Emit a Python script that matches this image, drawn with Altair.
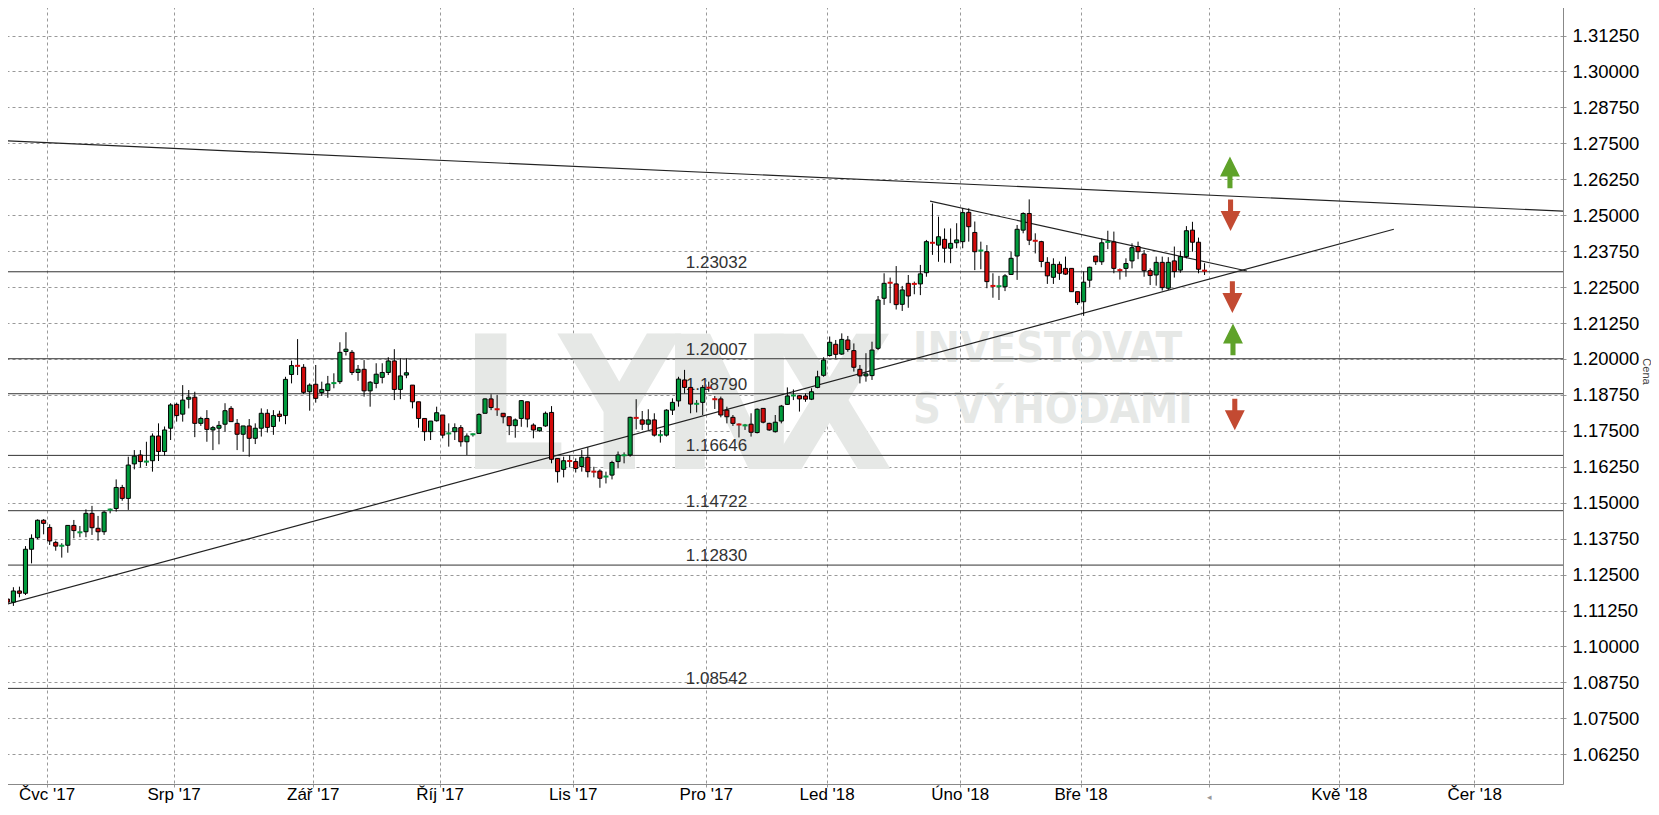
import json
import altair as alt
import pandas as pd

# ---------------- data ----------------
# trading-day index, 0 = first trading day of July 2017
day = list(range(-8, 192))

o = [1.1136, 1.1165, 1.1154, 1.1193, 1.1185, 1.1338, 1.1378, 1.1439,
     1.1414, 1.1362, 1.1349, 1.1352, 1.1421, 1.1396, 1.1399, 1.1463, 1.1411, 1.1399,
     1.1475, 1.1480, 1.1553, 1.1515, 1.1635, 1.1666, 1.1642, 1.1646, 1.1732, 1.1678,
     1.1759, 1.1842, 1.1808, 1.1860, 1.1867, 1.1776, 1.1793, 1.1753, 1.1759, 1.1773,
     1.1828, 1.1776, 1.1738, 1.1767, 1.1724, 1.1759, 1.1811, 1.1765, 1.1808, 1.1803,
     1.1946, 1.1977, 1.1971, 1.1886, 1.1912, 1.1883, 1.1890, 1.1915, 1.1921, 1.2026,
     1.2023, 1.1953, 1.1964, 1.1889, 1.1915, 1.1936, 1.1953, 1.1993, 1.1894, 1.1944,
     1.1909, 1.1851, 1.1793, 1.1747, 1.1785, 1.1805, 1.1740, 1.1747, 1.1761, 1.1712,
     1.1737, 1.1741, 1.1811, 1.1861, 1.1826, 1.1811, 1.1799, 1.1768, 1.1793, 1.1851,
     1.1770, 1.1750, 1.1767, 1.1814, 1.1654, 1.1616, 1.1646, 1.1643, 1.1626, 1.1658,
     1.1609, 1.1610, 1.1590, 1.1596, 1.1643, 1.1664, 1.1666, 1.1796, 1.1788, 1.1773,
     1.1788, 1.1734, 1.1735, 1.1822, 1.1854, 1.1927, 1.1901, 1.1843, 1.1849, 1.1901,
     1.1861, 1.1861, 1.1822, 1.1797, 1.1773, 1.1768, 1.1773, 1.1744, 1.1828, 1.1776,
     1.1747, 1.1784, 1.1842, 1.1872, 1.1872, 1.1871, 1.1860, 1.1901, 1.1943, 1.2012,
     1.2051, 1.2017, 1.2066, 1.2029, 1.1964, 1.1941, 1.1942, 1.2037, 1.2211, 1.2266,
     1.2261, 1.2190, 1.2263, 1.2262, 1.2261, 1.2300, 1.2405, 1.2396, 1.2416, 1.2385,
     1.2404, 1.2408, 1.2510, 1.2440, 1.2376, 1.2373, 1.2255, 1.2252, 1.2251, 1.2294,
     1.2358, 1.2448, 1.2506, 1.2412, 1.2408, 1.2336, 1.2284, 1.2329, 1.2315, 1.2315,
     1.2234, 1.2199, 1.2274, 1.2358, 1.2338, 1.2406, 1.2407, 1.2310, 1.2315, 1.2341,
     1.2391, 1.2365, 1.2307, 1.2292, 1.2336, 1.2246, 1.2341, 1.2309, 1.2356, 1.2448,
     1.2406, 1.2308]

h = [1.1173, 1.1176, 1.1206, 1.1208, 1.1349, 1.1390, 1.1442, 1.1443,
     1.1425, 1.1368, 1.1359, 1.1421, 1.1440, 1.1419, 1.1477, 1.1489, 1.1454, 1.1472,
     1.1480, 1.1581, 1.1562, 1.1660, 1.1683, 1.1683, 1.1712, 1.1741, 1.1776, 1.1765,
     1.1846, 1.1848, 1.1909, 1.1892, 1.1886, 1.1799, 1.1822, 1.1767, 1.1784, 1.1846,
     1.1836, 1.1791, 1.1767, 1.1791, 1.1776, 1.1828, 1.1825, 1.1822, 1.1820, 1.1938,
     1.1994, 1.2069, 1.1982, 1.1915, 1.1979, 1.1921, 1.1941, 1.1950, 1.2058, 1.2093,
     1.2031, 1.1979, 1.1996, 1.1923, 1.1985, 1.1985, 1.2006, 1.2034, 1.2002, 1.2002,
     1.1909, 1.1851, 1.1793, 1.1784, 1.1834, 1.1805, 1.1776, 1.1776, 1.1770, 1.1741,
     1.1741, 1.1811, 1.1863, 1.1877, 1.1875, 1.1811, 1.1799, 1.1793, 1.1857, 1.1851,
     1.1776, 1.1761, 1.1817, 1.1836, 1.1654, 1.1660, 1.1665, 1.1654, 1.1683, 1.1693,
     1.1625, 1.1616, 1.1608, 1.1646, 1.1678, 1.1675, 1.1799, 1.1860, 1.1819, 1.1825,
     1.1811, 1.1753, 1.1825, 1.1863, 1.1938, 1.1962, 1.1901, 1.1857, 1.1909, 1.1921,
     1.1871, 1.1869, 1.1834, 1.1805, 1.1776, 1.1774, 1.1811, 1.1828, 1.1828, 1.1778,
     1.1805, 1.1840, 1.1901, 1.1894, 1.1874, 1.1880, 1.1898, 1.1959, 1.2006, 1.2078,
     1.2066, 1.2089, 1.2080, 1.2054, 1.1979, 1.2020, 1.2060, 1.2219, 1.2298, 1.2283,
     1.2323, 1.2254, 1.2292, 1.2269, 1.2327, 1.2414, 1.2541, 1.2495, 1.2454, 1.2454,
     1.2472, 1.2524, 1.2524, 1.2478, 1.2408, 1.2396, 1.2298, 1.2289, 1.2295, 1.2373,
     1.2466, 1.2510, 1.2555, 1.2437, 1.2411, 1.2354, 1.2350, 1.2339, 1.2356, 1.2315,
     1.2234, 1.2304, 1.2321, 1.2358, 1.2419, 1.2446, 1.2443, 1.2315, 1.2350, 1.2402,
     1.2408, 1.2379, 1.2315, 1.2356, 1.2356, 1.2354, 1.2391, 1.2376, 1.2462, 1.2477,
     1.2422, 1.2333]

l = [1.1127, 1.1136, 1.1141, 1.1171, 1.1179, 1.1289, 1.1373, 1.1390,
     1.1353, 1.1333, 1.1309, 1.1326, 1.1376, 1.1380, 1.1380, 1.1388, 1.1368, 1.1388,
     1.1463, 1.1469, 1.1507, 1.1475, 1.1616, 1.1622, 1.1628, 1.1608, 1.1645, 1.1664,
     1.1718, 1.1782, 1.1782, 1.1828, 1.1728, 1.1767, 1.1712, 1.1683, 1.1703, 1.1747,
     1.1782, 1.1683, 1.1677, 1.1660, 1.1704, 1.1730, 1.1744, 1.1736, 1.1782, 1.1773,
     1.1915, 1.1944, 1.1878, 1.1820, 1.1848, 1.1871, 1.1865, 1.1898, 1.1913, 1.2012,
     1.1944, 1.1924, 1.1869, 1.1834, 1.1898, 1.1915, 1.1944, 1.1857, 1.1860, 1.1933,
     1.1828, 1.1761, 1.1715, 1.1718, 1.1782, 1.1724, 1.1695, 1.1718, 1.1695, 1.1666,
     1.1730, 1.1741, 1.1811, 1.1822, 1.1802, 1.1776, 1.1735, 1.1726, 1.1764, 1.1762,
     1.1724, 1.1747, 1.1764, 1.1637, 1.1570, 1.1588, 1.1623, 1.1605, 1.1608, 1.1588,
     1.1588, 1.1552, 1.1567, 1.1581, 1.1620, 1.1637, 1.1660, 1.1755, 1.1753, 1.1753,
     1.1730, 1.1709, 1.1730, 1.1805, 1.1834, 1.1880, 1.1811, 1.1814, 1.1805, 1.1886,
     1.1826, 1.1797, 1.1776, 1.1767, 1.1727, 1.1753, 1.1730, 1.1741, 1.1776, 1.1750,
     1.1744, 1.1776, 1.1840, 1.1857, 1.1817, 1.1851, 1.1857, 1.1898, 1.1938, 1.2008,
     1.2002, 1.2014, 1.2025, 1.1956, 1.1915, 1.1921, 1.1927, 1.2031, 1.2188, 1.2194,
     1.2172, 1.2167, 1.2178, 1.2225, 1.2222, 1.2286, 1.2362, 1.2338, 1.2335, 1.2333,
     1.2385, 1.2385, 1.2408, 1.2309, 1.2312, 1.2246, 1.2213, 1.2205, 1.2236, 1.2292,
     1.2275, 1.2437, 1.2396, 1.2367, 1.2319, 1.2261, 1.2261, 1.2275, 1.2292, 1.2234,
     1.2188, 1.2150, 1.2249, 1.2327, 1.2327, 1.2382, 1.2298, 1.2276, 1.2286, 1.2315,
     1.2347, 1.2286, 1.2257, 1.2255, 1.2238, 1.2240, 1.2283, 1.2300, 1.2350, 1.2373,
     1.2298, 1.2292]

c = [1.1167, 1.1154, 1.1193, 1.1185, 1.1338, 1.1376, 1.1439, 1.1428,
     1.1367, 1.1349, 1.1350, 1.1421, 1.1403, 1.1397, 1.1463, 1.1413, 1.1399, 1.1467,
     1.1476, 1.1553, 1.1515, 1.1631, 1.1662, 1.1643, 1.1643, 1.1732, 1.1678, 1.1753,
     1.1840, 1.1803, 1.1857, 1.1867, 1.1776, 1.1793, 1.1755, 1.1761, 1.1769, 1.1820,
     1.1782, 1.1738, 1.1767, 1.1724, 1.1759, 1.1811, 1.1762, 1.1803, 1.1800, 1.1929,
     1.1977, 1.1976, 1.1884, 1.1909, 1.1863, 1.1894, 1.1913, 1.1916, 1.2023, 1.2034,
     1.1953, 1.1964, 1.1889, 1.1919, 1.1947, 1.1953, 1.1993, 1.1894, 1.1941, 1.1952,
     1.1851, 1.1793, 1.1747, 1.1784, 1.1813, 1.1735, 1.1741, 1.1761, 1.1712, 1.1732,
     1.1738, 1.1807, 1.1861, 1.1831, 1.1825, 1.1799, 1.1768, 1.1788, 1.1855, 1.1791,
     1.1753, 1.1761, 1.1811, 1.1651, 1.1608, 1.1646, 1.1645, 1.1619, 1.1658, 1.1608,
     1.1608, 1.1585, 1.1591, 1.1640, 1.1666, 1.1665, 1.1797, 1.1795, 1.1773, 1.1788,
     1.1735, 1.1735, 1.1822, 1.1849, 1.1930, 1.1901, 1.1843, 1.1844, 1.1901, 1.1900,
     1.1860, 1.1805, 1.1799, 1.1776, 1.1772, 1.1769, 1.1745, 1.1825, 1.1780, 1.1753,
     1.1780, 1.1836, 1.1871, 1.1873, 1.1861, 1.1860, 1.1886, 1.1938, 1.1996, 1.2058,
     1.2016, 1.2068, 1.2033, 1.1971, 1.1941, 1.1948, 1.2031, 1.2205, 1.2263, 1.2265,
     1.2189, 1.2240, 1.2219, 1.2261, 1.2296, 1.2408, 1.2404, 1.2425, 1.2385, 1.2402,
     1.2414, 1.2509, 1.2460, 1.2373, 1.2377, 1.2269, 1.2254, 1.2253, 1.2289, 1.2350,
     1.2451, 1.2506, 1.2413, 1.2411, 1.2339, 1.2289, 1.2329, 1.2298, 1.2295, 1.2234,
     1.2196, 1.2267, 1.2319, 1.2338, 1.2404, 1.2407, 1.2315, 1.2309, 1.2332, 1.2387,
     1.2373, 1.2307, 1.2290, 1.2336, 1.2248, 1.2336, 1.2304, 1.2356, 1.2446, 1.2406,
     1.2312, 1.2307]

levels = [1.23032, 1.20007, 1.18790, 1.16646, 1.14722, 1.12830, 1.08542]
level_labels = ["1.23032", "1.20007", "1.18790", "1.16646", "1.14722", "1.12830", "1.08542"]

# trend lines: start/end (trading-day index, price)
trend_x1 = [-8.2, -8.2, 145.6]
trend_y1 = [1.2760, 1.1141, 1.2549]
trend_x2 = [250.3, 222.3, 198.0]
trend_y2 = [1.2514, 1.2451, 1.2306]

# signal arrows
arrow_day = [195.2, 195.3, 195.6, 195.7, 196.0]
arrow_price = [1.2649, 1.2500, 1.2215, 1.2068, 1.1807]
arrow_dir = ["up", "down", "down", "up", "down"]

# axis ticks
month_pos = [-0.5, 20.5, 43.5, 64.5, 86.5, 108.5, 128.5, 150.5, 170.5, 191.7, 213.2, 235.6]
month_lab = ["Čvc '17", "Srp '17", "Zář '17", "Říj '17", "Lis '17", "Pro '17",
             "Led '18", "Úno '18", "Bře '18", "◂", "Kvě '18", "Čer '18"]
price_ticks = [1.0625, 1.075, 1.0875, 1.1, 1.1125, 1.125, 1.1375, 1.15, 1.1625,
               1.175, 1.1875, 1.2, 1.2125, 1.225, 1.2375, 1.25, 1.2625, 1.275,
               1.2875, 1.3, 1.3125]

# ---------------- styling ----------------
GREEN = "#009a3c"
RED = "#d20a0a"
ARROW_GREEN = "#5fa22a"
ARROW_RED = "#c34a32"
WM = "#e6e8e6"
NARROW = "Liberation Sans Narrow, Arial Narrow, DejaVu Sans Condensed, sans-serif"
FONT = "Liberation Sans, Arial, sans-serif"
LABEL_DAY = 105.2
MARK_POS = month_pos[9]

xs = alt.Scale(domain=[-8.215, 250.28], nice=False, zero=False)
ys = alt.Scale(domain=[1.05216, 1.32485], nice=False, zero=False)

expr = "''"
for p, lab in reversed(list(zip(month_pos, month_lab))):
    expr = f"datum.value == {p} ? {json.dumps(lab, ensure_ascii=False)} : ({expr})"

xaxis = alt.Axis(values=month_pos, labelExpr=expr, title=None, orient="bottom",
                 tickCount=100,
                 labelFontSize={"condition": {"test": f"datum.value == {MARK_POS}", "value": 9},
                                "value": 17},
                 labelColor={"condition": {"test": f"datum.value == {MARK_POS}", "value": "#999"},
                             "value": "#000"},
                 labelBaseline="alphabetic",
                 labelFont=FONT, labelPadding=12, tickSize=3, tickColor="#999",
                 domainColor="#888", grid=True, gridColor="#999",
                 gridDash=[3, 3], labelFlush=False, labelOverlap=False)
yaxis = alt.Axis(values=price_ticks, format=".5f", orient="right", title="Cena",
                 tickCount=100,
                 labelFontSize=18.5, labelFont=FONT, labelColor="#000",
                 labelPadding=6, tickSize=3, tickColor="#999",
                 domainColor="#888", grid=True, gridColor="#999", gridDash=[3, 3],
                 labelFlush=False, labelOverlap=False,
                 titleAngle=90, titleFontSize=11, titleFontWeight="normal",
                 titleFont=FONT, titleColor="#444", titleX=82, titleY=371,
                 titleAlign="center", titleBaseline="middle")

df = pd.DataFrame({"d": day, "o": o, "h": h, "l": l, "c": c})
df["dir"] = ["up" if cc >= oo else "down" for oo, cc in zip(o, c)]
dir_color = alt.Scale(domain=["up", "down"], range=[GREEN, RED])

base = alt.Chart(df)

axes_layer = base.mark_rule(opacity=0).encode(
    x=alt.X("d:Q", scale=xs, axis=xaxis),
    y=alt.Y("l:Q", scale=ys, axis=yaxis),
)

wicks = base.mark_rule(color="#000", strokeWidth=1, clip=True).encode(
    x="d:Q", y="l:Q", y2="h:Q",
)

bodies = base.transform_filter("abs(datum.c - datum.o) >= 0.0003").transform_calculate(
    x0="datum.d - 0.34", x1="datum.d + 0.34"
).mark_bar(stroke="#000", strokeWidth=1, clip=True).encode(
    x="x0:Q", x2="x1:Q", y="o:Q", y2="c:Q",
    fill=alt.Fill("dir:N", scale=dir_color, legend=None),
)

dojis = base.transform_filter("abs(datum.c - datum.o) < 0.0003").mark_tick(
    orient="horizontal", thickness=2, size=5, clip=True, opacity=1
).encode(
    x="d:Q", y="c:Q",
    color=alt.Color("dir:N", scale=dir_color, legend=None),
)

lev_df = pd.DataFrame({"v": levels, "t": level_labels})
lev_lines = alt.Chart(lev_df).mark_rule(color="#333", strokeWidth=1).encode(y="v:Q")
lev_text = alt.Chart(lev_df).mark_text(
    align="left", baseline="alphabetic", dy=-4, fontSize=17, font=FONT, color="#333"
).encode(x=alt.datum(LABEL_DAY), y="v:Q", text="t:N")

tr_df = pd.DataFrame({"x1": trend_x1, "y1": trend_y1, "x2": trend_x2, "y2": trend_y2})
trends = alt.Chart(tr_df).mark_rule(color="#222", strokeWidth=1.2, clip=True).encode(
    x="x1:Q", y="y1:Q", x2="x2:Q", y2="y2:Q"
)

ar_df = pd.DataFrame({"d": arrow_day, "p": arrow_price, "dir": arrow_dir})
UP = "M0,-1 L0.63,0.26 L0.16,0.26 L0.16,1 L-0.16,1 L-0.16,0.26 L-0.63,0.26 Z"
DOWN = "M0,1 L0.63,-0.26 L0.16,-0.26 L0.16,-1 L-0.16,-1 L-0.16,-0.26 L-0.63,-0.26 Z"
arrows_up = alt.Chart(ar_df).transform_filter("datum.dir == 'up'").mark_point(
    shape=UP, filled=True, size=1000, color=ARROW_GREEN, opacity=1
).encode(x="d:Q", y="p:Q")
arrows_dn = alt.Chart(ar_df).transform_filter("datum.dir == 'down'").mark_point(
    shape=DOWN, filled=True, size=1000, color=ARROW_RED, opacity=1
).encode(x="d:Q", y="p:Q")

# watermark
wm_big = pd.DataFrame({"t": ["L", "Y", "N", "X"], "d": [76.6, 94.2, 112.4, 129.0],
                       "p": [1.1617, 1.1617, 1.1617, 1.1617]})
wm_small = pd.DataFrame({"t": ["INVESTOVAT", "S VÝHODAMI"], "d": [142.8, 142.8],
                         "p": [1.1988, 1.1776]})
wm1 = alt.Chart(wm_big).mark_text(
    align="center", baseline="alphabetic", fontSize=185, font=NARROW,
    fontWeight="bold", color=WM
).encode(x="d:Q", y="p:Q", text="t:N")
wm2 = alt.Chart(wm_small).mark_text(
    align="left", baseline="alphabetic", fontSize=43, font=NARROW,
    fontWeight="bold", color=WM
).encode(x="d:Q", y="p:Q", text="t:N")

chart = alt.layer(
    axes_layer, wm1, wm2, lev_lines, trends, lev_text, wicks, bodies, dojis,
    arrows_up, arrows_dn
).properties(
    width=1563, height=784,
    padding={"left": -8, "top": -8, "right": 88, "bottom": 19},
    autosize=alt.AutoSizeParams(type="none"),
).configure_view(strokeWidth=0).configure(background="white")

chart.save("out.html", embed_options={"renderer": "svg", "actions": False})
